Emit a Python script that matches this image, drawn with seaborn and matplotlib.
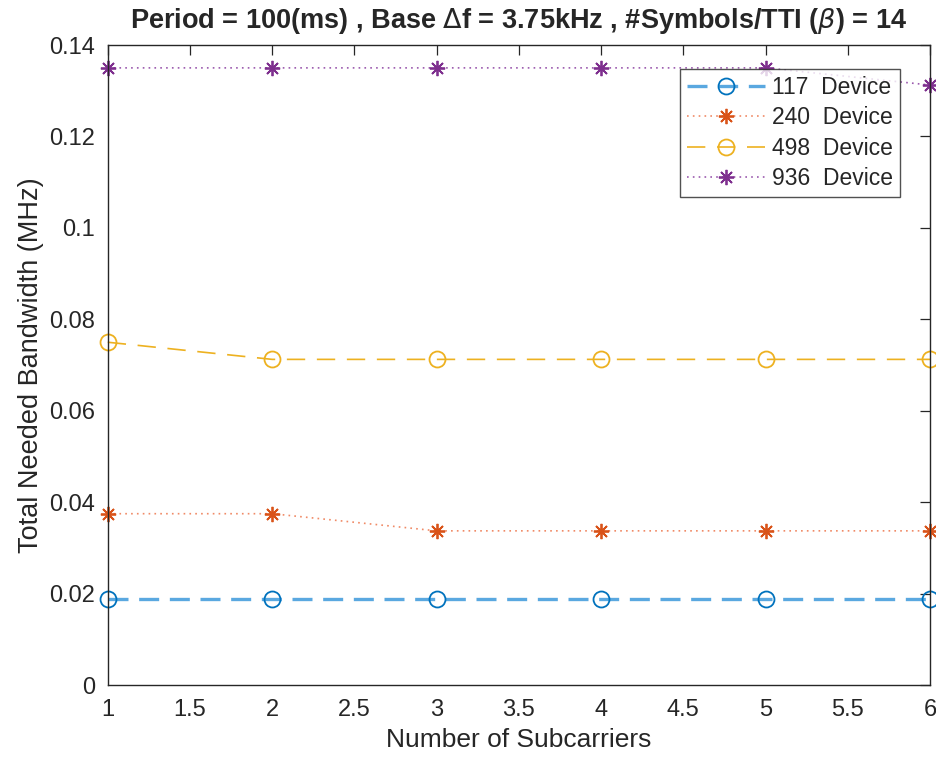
import pandas as pd
import numpy as np
import matplotlib
matplotlib.use("Agg")
import matplotlib.pyplot as plt
import seaborn as sns

# values
subcarriers = [1, 2, 3, 4, 5, 6]
bw_117 = [0.01875, 0.01875, 0.01875, 0.01875, 0.01875, 0.01875]
bw_240 = [0.0375, 0.0375, 0.03375, 0.03375, 0.03375, 0.03375]
bw_498 = [0.075, 0.07125, 0.07125, 0.07125, 0.07125, 0.07125]
bw_936 = [0.135, 0.135, 0.135, 0.135, 0.135, 0.13125]
device_labels = ["117  Device", "240  Device", "498  Device", "936  Device"]

sns.set_style("white")
plt.rcParams["font.family"] = ["Liberation Sans", "DejaVu Sans"]
plt.rcParams["mathtext.fontset"] = "dejavusans"

fig = plt.figure(figsize=(9.37, 7.63), dpi=100)
ax = fig.add_axes([0.115, 0.102, 0.8775, 0.839])

asterisk = (8, 2, 0)
series = [
    (bw_117, "#5AA8E0", (0, (6, 3.2)), "o", 2.4),
    (bw_240, "#F08A66", (0, (1, 2.5)), asterisk, 1.2),
    (bw_498, "#EDB120", (0, (11, 7)), "o", 1.2),
    (bw_936, "#9B5AAE", (0, (1, 2.5)), asterisk, 1.2),
]
marker_cols = ["#0072BD", "#D95319", "#EDB120", "#7E2F8E"]

for (vals, col, ls, mk, lw), lab, mc in zip(series, device_labels, marker_cols):
    df = pd.DataFrame({"x": subcarriers, "y": vals})
    sns.lineplot(data=df, x="x", y="y", ax=ax, color=col, linestyle=ls, linewidth=lw,
                 marker=mk, markersize=11.5 if mk == "o" else 11, markerfacecolor="none",
                 markeredgecolor=mc, markeredgewidth=1.3, label=lab, clip_on=False)

ax.set_xlim(1, 6)
ax.set_ylim(0, 0.14)
ax.set_xticks(np.arange(1, 6.01, 0.5))
ax.set_xticklabels(["1", "1.5", "2", "2.5", "3", "3.5", "4", "4.5", "5", "5.5", "6"])
ax.set_yticks(np.arange(0, 0.141, 0.02))
ax.set_yticklabels(["0", "0.02", "0.04", "0.06", "0.08", "0.1", "0.12", "0.14"])
ax.tick_params(direction="in", length=7, width=0.9, top=True, right=True,
               labelsize=17, labelcolor="#262626", colors="#262626")
ax.tick_params(axis="x", pad=10)
ax.tick_params(axis="y", pad=9)
for s in ax.spines.values():
    s.set_color("#262626")
    s.set_linewidth(1.0)

ax.set_xlabel("Number of Subcarriers", fontsize=19, color="#262626", labelpad=5)
ax.set_ylabel("Total Needed Bandwidth (MHz)", fontsize=19.5, color="#262626", labelpad=4)
ax.set_title(r"Period = 100(ms) , Base $\Delta$f = 3.75kHz , #Symbols/TTI ($\beta$) = 14",
             fontsize=19.5, fontweight="bold", pad=12)

leg = ax.legend(loc="upper right", bbox_to_anchor=(0.963, 0.963), fontsize=16.5,
                frameon=True, fancybox=False, edgecolor="#262626", handlelength=3.4,
                borderpad=0.3, labelspacing=0.33, handletextpad=0.3, borderaxespad=0)
leg.get_frame().set_linewidth(1.0)

plt.savefig("out.png", dpi=100)
